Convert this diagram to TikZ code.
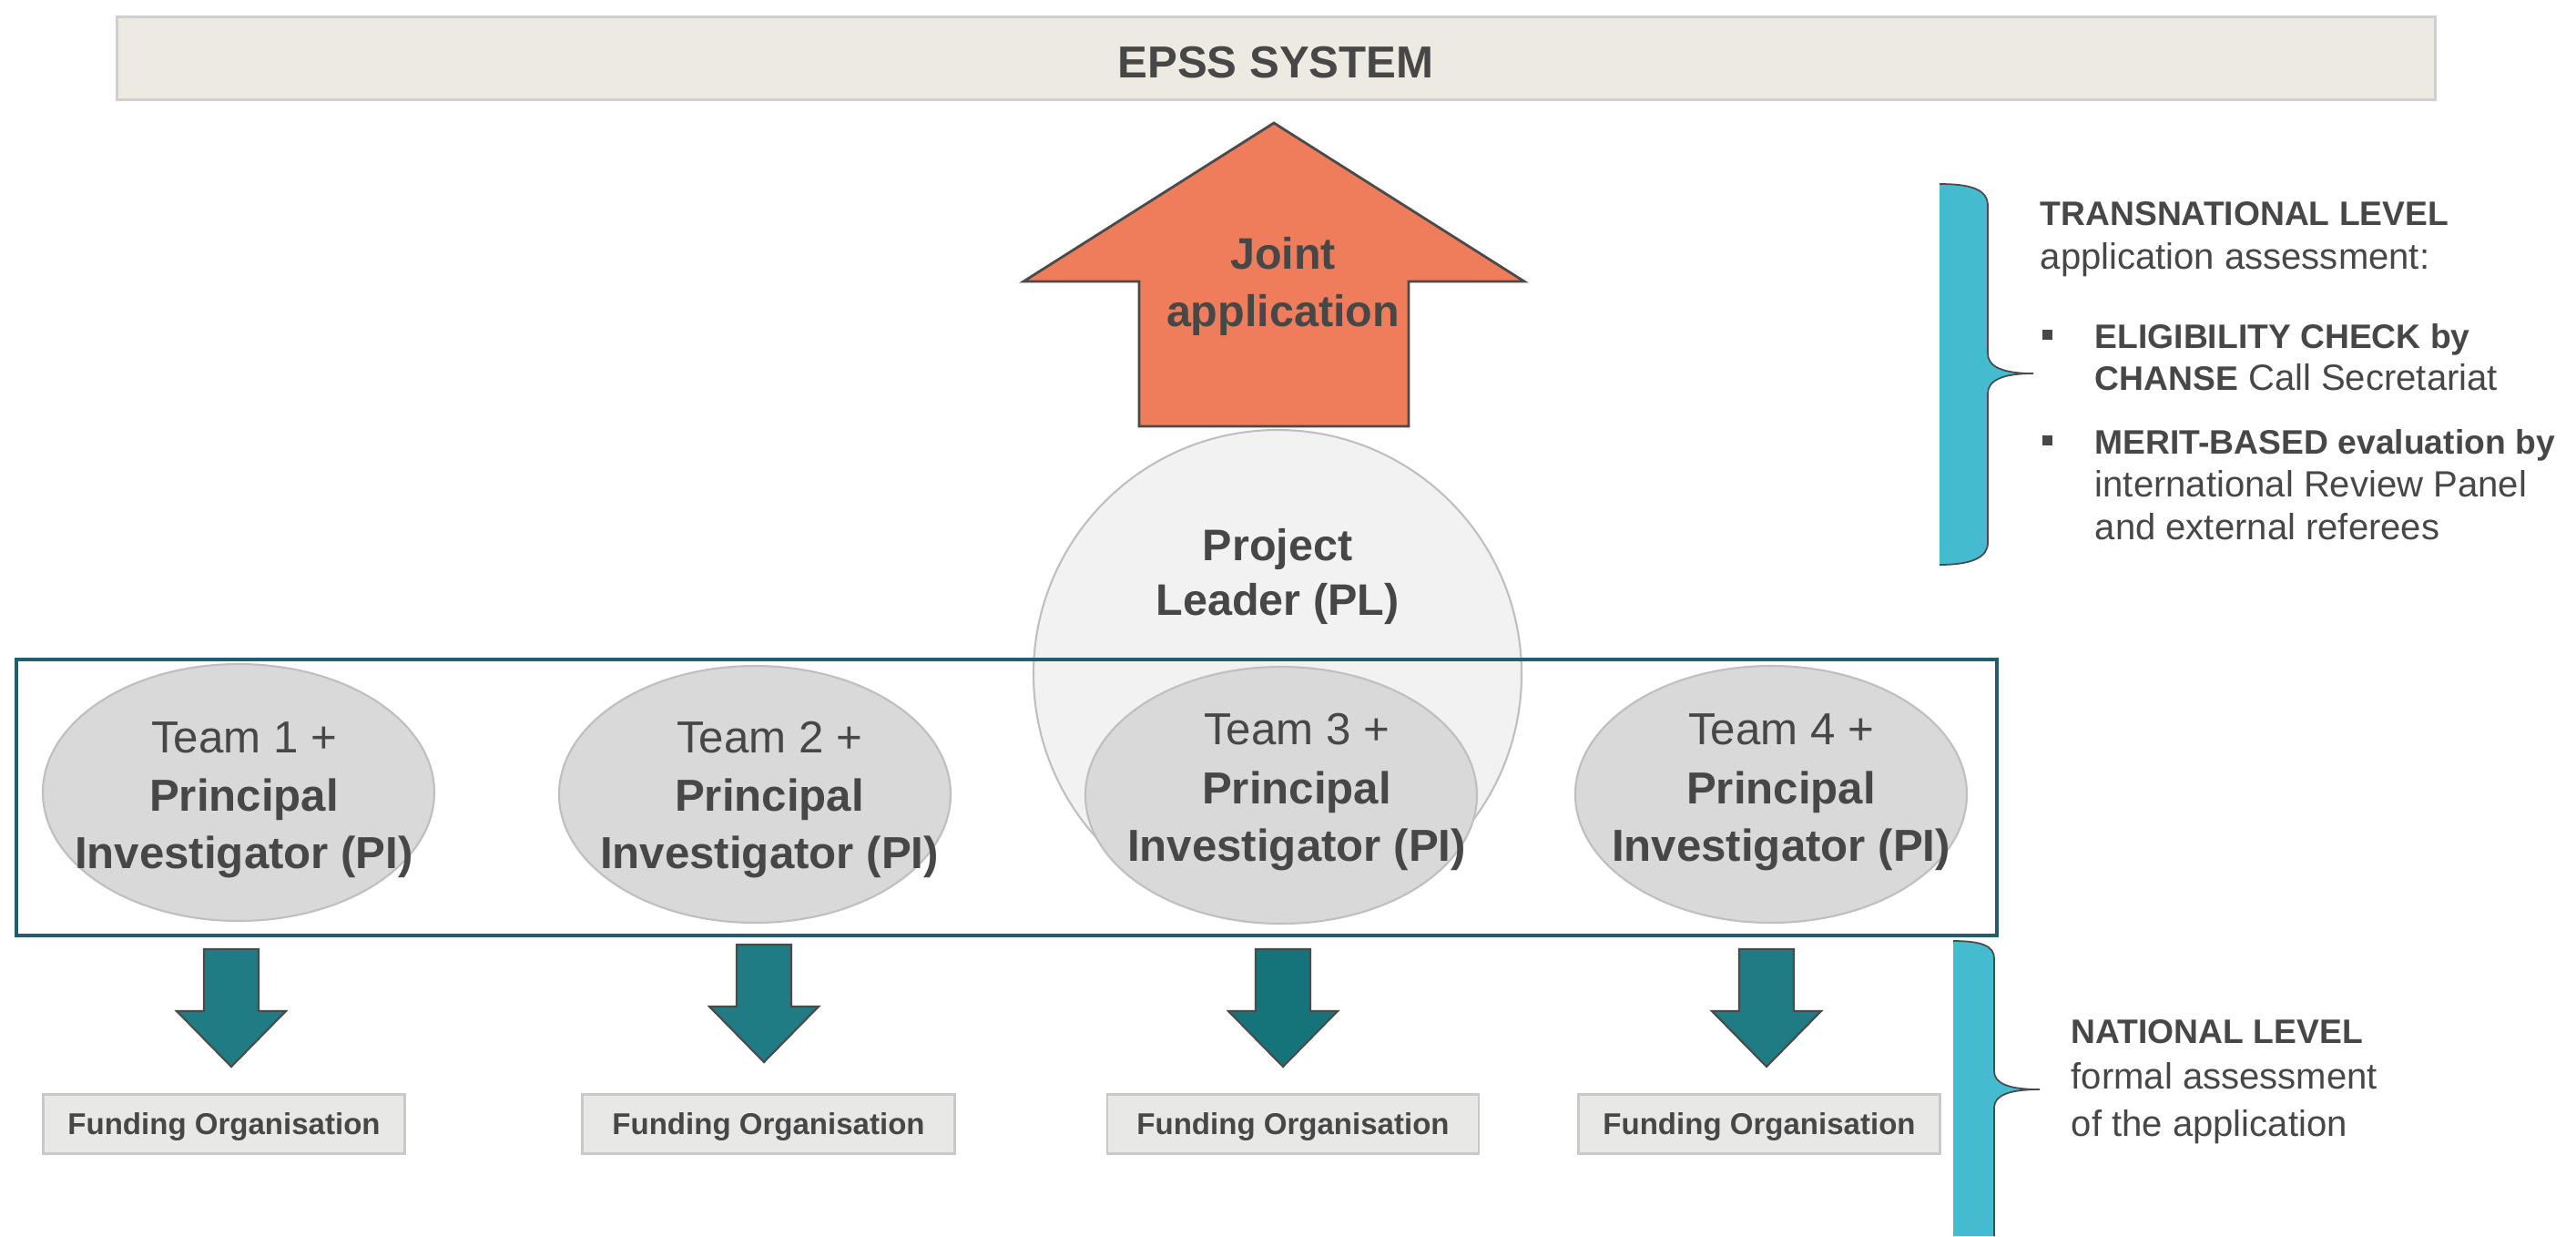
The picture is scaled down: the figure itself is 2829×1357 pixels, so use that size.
\documentclass[tikz,border=0pt]{standalone}
\usepackage{fontspec}
\setmainfont{Liberation Sans}
\usetikzlibrary{shapes.geometric}
\definecolor{txtc}{HTML}{474747}
\definecolor{barfill}{HTML}{EDEBE1}
\definecolor{barline}{HTML}{CFCFCF}
\definecolor{coral}{HTML}{EF7D5C}
\definecolor{dk}{HTML}{4A4A4A}
\definecolor{plfill}{HTML}{F2F2F2}
\definecolor{gborder}{HTML}{BFBFBF}
\definecolor{teamfill}{HTML}{D9D9D9}
\definecolor{tealbox}{HTML}{1F5E6A}
\definecolor{arrA}{HTML}{1F7B84}
\definecolor{arrB}{HTML}{15747A}
\definecolor{fofill}{HTML}{E8E8E6}
\definecolor{foline}{HTML}{C9C9C9}
\definecolor{bracec}{HTML}{45BBCF}
\tikzset{
  txt/.style={inner sep=0pt, text=txtc},
  bigb/.style={txt, anchor=base, font=\fontsize{13.8}{16}\selectfont\bfseries},
  teamr/.style={txt, anchor=base, font=\fontsize{14}{16}\selectfont},
  teamb/.style={txt, anchor=base, font=\fontsize{14}{16}\selectfont\bfseries},
  rb/.style={txt, anchor=base west, font=\fontsize{10.6}{12}\selectfont\bfseries},
  rr/.style={txt, anchor=base west, font=\fontsize{11.4}{13}\selectfont},
  teamell/.style={ellipse, draw=gborder, fill=teamfill, line width=0.6pt, minimum width=43mm, minimum height=28.2mm, inner sep=0pt},
  fobox/.style={draw=foline, fill=fofill, line width=0.6pt, minimum height=6.5mm, inner sep=0pt, text=txtc, font=\fontsize{9.4}{11}\selectfont\bfseries, text height=6.7pt, text depth=0pt},
  blockarrow/.style={draw=dk, line width=0.6pt},
  bracefill/.style={fill=bracec, draw=none},
  braceline/.style={draw=dk, line width=0.5pt},
  bulletsq/.style={fill=txtc, draw=none}
}
\newcommand\myDownArrow[3]{%
  \draw[blockarrow, fill=#3] ({#1-30},#2) -- ({#1+30},#2) -- ({#1+30},{#2+68}) -- ({#1+60},{#2+68}) -- (#1,{#2+129}) -- ({#1-60},{#2+68}) -- ({#1-30},{#2+68}) -- cycle;}
\begin{document}
\begin{tikzpicture}[x=0.1mm,y=-0.1mm]
\useasboundingbox (0,0) rectangle (2829,1357);

% EPSS bar
\node[draw=barline, fill=barfill, line width=0.8pt, minimum width=254.6mm, minimum height=9.1mm, inner sep=0pt, anchor=north west] (epss) at (127,17) {};
\node[txt, anchor=base, font=\fontsize{14}{16}\selectfont\bfseries] (epsst) at (1401,85) {EPSS SYSTEM};

% Joint application arrow
\draw[blockarrow, fill=coral, line width=0.8pt] (1399,135) -- (1674,309) -- (1547,309) -- (1547,468) -- (1251,468) -- (1251,309) -- (1124,309) -- cycle;
\node[bigb] (joint1) at (1409,295) {Joint};
\node[bigb] (joint2) at (1409,358) {application};

% Project leader circle
\node[circle, draw=gborder, fill=plfill, line width=0.6pt, minimum size=53.6mm, inner sep=0pt] (pl) at (1403,740) {};
\node[bigb] (pl1) at (1403,615) {Project};
\node[bigb] (pl2) at (1403,675) {Leader (PL)};

% Teams frame
\node[draw=tealbox, line width=1pt, minimum width=217.5mm, minimum height=30.3mm, inner sep=0pt, anchor=north west] (frame) at (16,722) {};

% Teams
\node[teamell] (t1) at (262,870) {};
\node[teamell] (t2) at (829,872) {};
\node[teamell] (t3) at (1407,873) {};
\node[teamell] (t4) at (1945,872) {};

\node[teamr] (t1a) at (268,826) {Team 1 +};
\node[teamb] (t1b) at (268,890) {Principal};
\node[teamb] (t1c) at (268,953) {Investigator (PI)};
\node[teamr] (t2a) at (845,826) {Team 2 +};
\node[teamb] (t2b) at (845,890) {Principal};
\node[teamb] (t2c) at (845,953) {Investigator (PI)};
\node[teamr] (t3a) at (1424,817) {Team 3 +};
\node[teamb] (t3b) at (1424,882) {Principal};
\node[teamb] (t3c) at (1424,945) {Investigator (PI)};
\node[teamr] (t4a) at (1956,817) {Team 4 +};
\node[teamb] (t4b) at (1956,882) {Principal};
\node[teamb] (t4c) at (1956,945) {Investigator (PI)};

% Down arrows
\myDownArrow{254}{1042}{arrA}
\myDownArrow{839}{1037}{arrA}
\myDownArrow{1409}{1042}{arrB}
\myDownArrow{1940}{1042}{arrA}

% Funding organisations
\node[fobox, minimum width=39.7mm] (fo1) at (246,1234) {Funding Organisation};
\node[fobox, minimum width=40.9mm] (fo2) at (844,1234) {Funding Organisation};
\node[fobox, minimum width=40.8mm] (fo3) at (1420,1234) {Funding Organisation};
\node[fobox, minimum width=39.7mm] (fo4) at (1932,1234) {Funding Organisation};

% Transnational brace
\path[bracefill] (2130,202) .. controls (2165,202) and (2183,208) .. (2183,226) -- (2183,388) .. controls (2183,402) and (2198,410) .. (2233,410) .. controls (2198,410) and (2183,418) .. (2183,432) -- (2183,596) .. controls (2183,612) and (2165,620) .. (2130,620) -- cycle;
\draw[braceline] (2130,202) .. controls (2165,202) and (2183,208) .. (2183,226) -- (2183,388) .. controls (2183,402) and (2198,410) .. (2233,410) .. controls (2198,410) and (2183,418) .. (2183,432) -- (2183,596) .. controls (2183,612) and (2165,620) .. (2130,620);

% National brace
\path[bracefill] (2145,1033) .. controls (2175,1033) and (2190,1038) .. (2190,1052) -- (2190,1176) .. controls (2190,1189) and (2205,1196) .. (2240,1196) .. controls (2205,1196) and (2190,1203) .. (2190,1216) -- (2190,1357) -- (2145,1357) -- cycle;
\draw[braceline] (2145,1033) .. controls (2175,1033) and (2190,1038) .. (2190,1052) -- (2190,1176) .. controls (2190,1189) and (2205,1196) .. (2240,1196) .. controls (2205,1196) and (2190,1203) .. (2190,1216) -- (2190,1357);

% Transnational text
\node[rb] (tr1) at (2240,247) {TRANSNATIONAL LEVEL};
\node[rr] (tr2) at (2240,295) {application assessment:};
\fill[bulletsq] (2243,362) rectangle (2254,373);
\node[rb] (tr3) at (2300,382) {ELIGIBILITY CHECK by};
\node[rr] (tr4) at (2300,428) {{\fontsize{10.6}{12}\selectfont\bfseries CHANSE} Call Secretariat};
\fill[bulletsq] (2243,478) rectangle (2254,489);
\node[rb] (tr5) at (2300,498) {MERIT-BASED evaluation by};
\node[rr] (tr6) at (2300,545) {international Review Panel};
\node[rr] (tr7) at (2300,592) {and external referees};

% National text
\node[rb] (na1) at (2274,1145) {NATIONAL LEVEL};
\node[rr] (na2) at (2274,1195) {formal assessment};
\node[rr] (na3) at (2274,1247) {of the application};
\end{tikzpicture}
\end{document}
